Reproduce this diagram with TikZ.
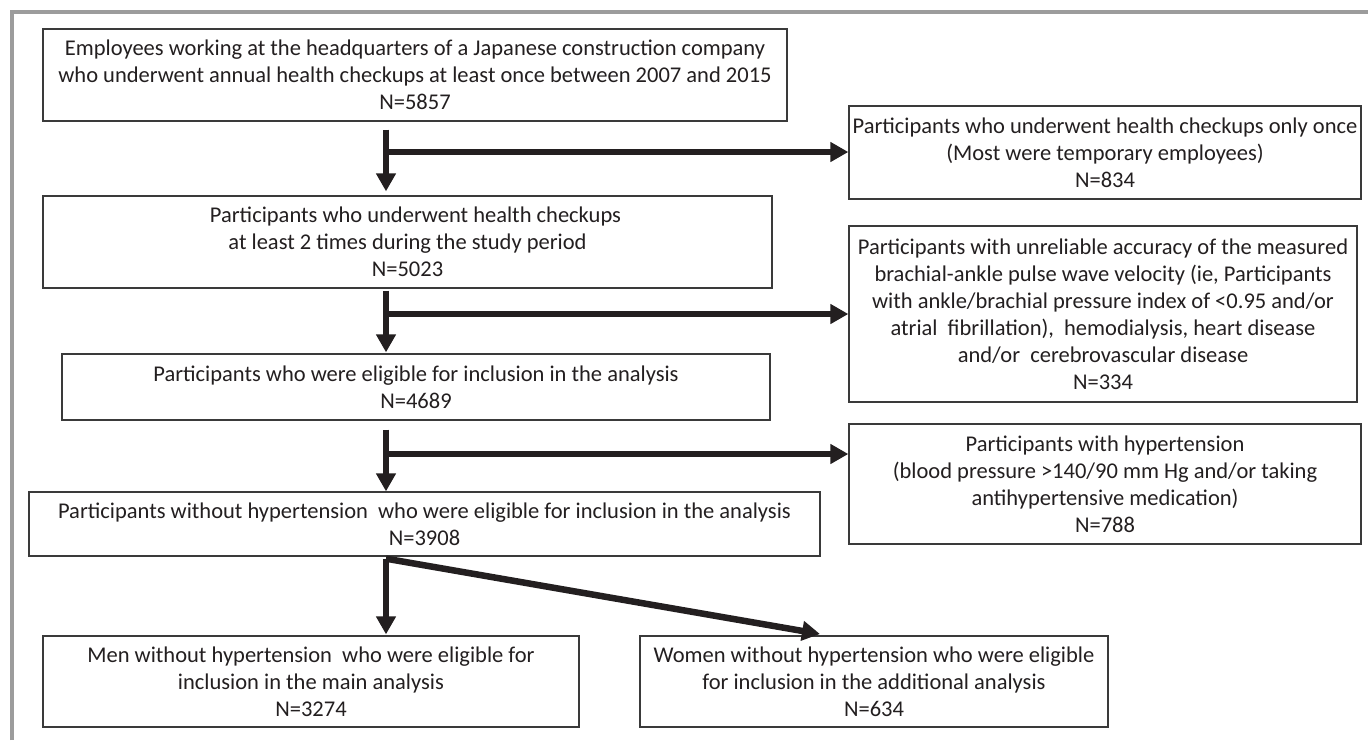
\documentclass[tikz,border=0pt]{standalone}
\usepackage{fontspec}
\setmainfont{Carlito}
\usetikzlibrary{arrows.meta,calc}
\definecolor{framegray}{HTML}{9C9C9C}
\definecolor{inkc}{HTML}{231F20}
\definecolor{edgec}{HTML}{3A3A3A}
\tikzset{
  box/.style={draw=edgec, line width=1.3pt, fill=white, inner sep=0pt, align=center,
    text=inkc, font=\fontsize{22.5}{27}\selectfont},
  flow/.style={draw=inkc, line width=6.5pt, -{Triangle[length=18pt,width=19pt]}}
}
\begin{document}
\begin{tikzpicture}[x=1pt,y=-1pt]
\useasboundingbox (0,0) rectangle (1368,740);
\fill[white] (0,0) rectangle (1368,740);
% frame
\draw[framegray, line width=3.5pt] (12,740) -- (12,12) -- (1368,12);

% left column
\node[box, minimum width=744pt, minimum height=92pt] (b1) at (415,75)
  {Employees working at the headquarters of a Japanese construction company\\
   who underwent annual health checkups at least once between 2007 and 2015\\
   N=5857};
\node[box, minimum width=729pt, minimum height=92pt] (b2) at (407.5,242)
  {\hspace*{16pt}Participants who underwent health checkups\\
   at least 2 times during the study period\\
   N=5023};
\node[box, minimum width=708pt, minimum height=66pt] (b3) at (416,387)
  {Participants who were eligible for inclusion in the analysis\\
   N=4689};
\node[box, minimum width=791pt, minimum height=64pt] (b4) at (424.5,524)
  {Participants without hypertension\ \ who were eligible for inclusion in the analysis\\
   N=3908};
\node[box, minimum width=536pt, minimum height=91pt] (bM) at (311,681.5)
  {Men without hypertension\ \ who were eligible for\\
   inclusion in the main analysis\\
   N=3274};
\node[box, minimum width=468pt, minimum height=91pt] (bW) at (874,681.5)
  {Women without hypertension who were eligible\\
   for inclusion in the additional analysis\\
   N=634};

% right column
\node[box, minimum width=512pt, minimum height=93pt] (b834) at (1105,152.5)
  {Participants who underwent health checkups only once\\
   (Most were temporary employees)\\
   N=834};
\node[box, minimum width=508pt, minimum height=176pt] (b334) at (1103,314)
  {Participants with unreliable accuracy of the measured\\
   brachial-ankle pulse wave velocity (ie, Participants\\
   with ankle/brachial pressure index of <0.95 and/or\\
   atrial\ \ fibrillation),\ \ hemodialysis, heart disease\\
   and/or\ \ cerebrovascular disease\\
   N=334};
\node[box, minimum width=512pt, minimum height=120pt] (b788) at (1105,484)
  {Participants with hypertension\\
   (blood pressure >140/90 mm Hg and/or taking\\
   antihypertensive medication)\\
   N=788};

% connectors
\coordinate (spine) at (386,0);
\coordinate (j1) at (386,152);
\coordinate (j2) at (386,314);
\coordinate (j3) at (386,454);
\coordinate (wtip) at (820,634);

\draw[flow] ([yshift=-8pt]b1.south -| spine) -- ([yshift=4pt]b2.north -| spine);
\draw[flow] (j1) -- (j1 -| b834.west);

\draw[flow] ([yshift=-2pt]b2.south -| spine) -- ([yshift=1pt]b3.north -| spine);
\draw[flow] (j2) -- (j2 -| b334.west);

\draw[flow] ([yshift=-9pt]b3.south -| spine) -- ([yshift=0pt]b4.north -| spine);
\draw[flow] (j3) -- (j3 -| b788.west);

\draw[flow] ([yshift=-2pt]b4.south -| spine) -- ([yshift=1pt]bM.north -| spine);
\draw[flow] ([yshift=-2pt]b4.south -| spine) -- (wtip);
\end{tikzpicture}
\end{document}
